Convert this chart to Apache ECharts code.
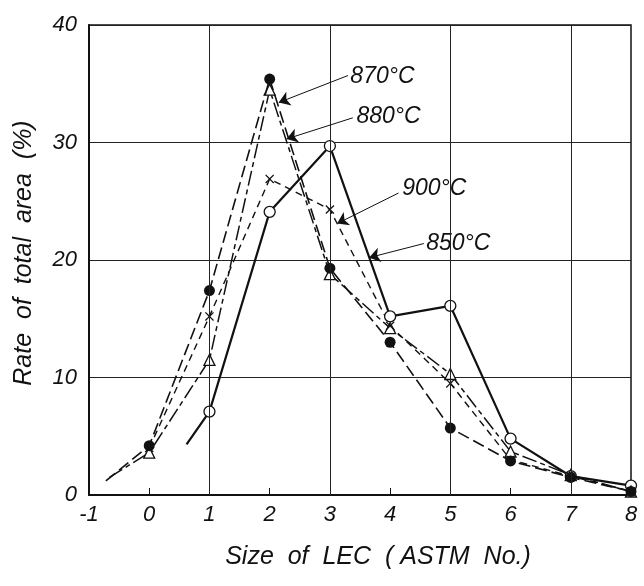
<!DOCTYPE html>
<html>
<head>
<meta charset="utf-8">
<script src="https://cdn.jsdelivr.net/npm/echarts@6/dist/echarts.min.js"></script>
<style>
  html, body { margin: 0; padding: 0; background: #fff; }
  #chart { width: 644px; height: 586px; }
</style>
</head>
<body>
<div id="chart"></div>
<script>
// Tamaño de LEC (ASTM No.) vs. porcentaje del área total

const sizes = [0, 1, 2, 3, 4, 5, 6, 7, 8];
const rate850 = [null, 7.1, 24.1, 29.7, 15.2, 16.1, 4.8, 1.6, 0.8];
const rate870 = [4.2, 17.4, 35.4, 19.3, 13.0, 5.7, 2.9, 1.5, 0.3];
const rate880 = [3.6, 11.5, 34.5, 18.8, 14.2, 10.3, 3.7, 1.7, 0.3];
const rate900 = [4.0, 15.2, 26.9, 24.3, 14.4, 9.5, 3.0, 1.6, 0.3];

// tramos de curva sin marcador
const tail850 = [0.62, 4.3];
const tail870 = [-0.72, 1.2];
const tail880 = [-0.66, 1.5];

// líneas verticales de la cuadrícula
const vGrid = [1, 3, 5, 7];

// etiquetas de temperatura: [texto, x, y] y flecha [inicio, fin]
const tempLabels = [
    ['870°C', 3.34, 35.6],
    ['880°C', 3.44, 32.2],
    ['900°C', 4.2, 26.1],
    ['850°C', 4.6, 21.4]
];
const arrows = [
    [[3.3, 35.7], [2.15, 33.4]],
    [[3.38, 32.1], [2.28, 30.3]],
    [[4.14, 25.7], [3.12, 23.1]],
    [[4.56, 21.4], [3.65, 20.2]]
];

const font = 'Liberation Sans';
const crossPath = 'path://M0,1L1,0L5,4L9,0L10,1L6,5L10,9L9,10L5,6L1,10L0,9L4,5Z';

function points(values, tail) {
    const pts = [];
    if (tail) pts.push({ value: tail, symbol: 'none' });
    values.forEach((v, i) => {
        if (v !== null) pts.push([sizes[i], v]);
    });
    return pts;
}

const chart = echarts.init(document.getElementById('chart'));

const option = {
    animation: false,
    backgroundColor: '#fff',
    grid: {
        left: 89,
        right: 13,
        top: 25,
        bottom: 91,
        show: true,
        borderColor: '#111',
        borderWidth: 1.5
    },
    xAxis: {
        type: 'value',
        min: -1,
        max: 8,
        interval: 1,
        name: 'Size  of  LEC  ( ASTM  No.)',
        nameLocation: 'middle',
        nameGap: 50,
        nameTextStyle: {
            fontFamily: font,
            fontStyle: 'italic',
            fontSize: 25,
            color: '#111',
            padding: [0, 0, 0, 36]
        },
        axisLine: { onZero: false, lineStyle: { color: '#111', width: 2 } },
        axisTick: { inside: true, length: 7, lineStyle: { color: '#111' } },
        axisLabel: {
            fontFamily: font,
            fontStyle: 'italic',
            fontSize: 22,
            color: '#111',
            margin: 9
        },
        splitLine: { show: false }
    },
    yAxis: {
        type: 'value',
        min: 0,
        max: 40,
        interval: 10,
        name: 'Rate  of  total  area  (%)',
        nameLocation: 'middle',
        nameGap: 52,
        nameTextStyle: {
            fontFamily: font,
            fontStyle: 'italic',
            fontSize: 25,
            color: '#111',
            padding: [0, 0, 0, 14]
        },
        axisLine: { onZero: false, lineStyle: { color: '#111', width: 2 } },
        axisTick: { show: false },
        axisLabel: {
            fontFamily: font,
            fontStyle: 'italic',
            fontSize: 22,
            color: '#111',
            margin: 12
        },
        splitLine: { lineStyle: { color: '#222', width: 1 } }
    },
    series: [
        {
            name: 'grid',
            type: 'line',
            data: [],
            silent: true,
            z: 1,
            markLine: {
                silent: true,
                symbol: 'none',
                lineStyle: { color: '#222', width: 1, type: 'solid' },
                label: { show: false },
                data: vGrid.map(v => ({ xAxis: v }))
            }
        },
        {
            name: 'arrows',
            type: 'line',
            data: [],
            silent: true,
            z: 5,
            markLine: {
                silent: true,
                symbol: ['none', 'arrow'],
                symbolSize: 11,
                lineStyle: { color: '#111', width: 1, type: 'solid' },
                itemStyle: { color: '#111' },
                label: { show: false },
                data: arrows.map(a => [{ coord: a[0] }, { coord: a[1] }])
            }
        },
        {
            name: '850°C',
            type: 'line',
            data: points(rate850, tail850),
            symbol: 'circle',
            symbolSize: 11,
            itemStyle: { color: '#fff', borderColor: '#111', borderWidth: 1.3 },
            lineStyle: { color: '#111', width: 2.2 },
            z: 3
        },
        {
            name: '870°C',
            type: 'line',
            data: points(rate870, tail870),
            symbol: 'circle',
            symbolSize: 11,
            itemStyle: { color: '#111' },
            lineStyle: { color: '#111', width: 1.6, type: [12, 5] },
            z: 4
        },
        {
            name: '880°C',
            type: 'line',
            data: points(rate880, tail880),
            symbol: 'triangle',
            symbolSize: 11,
            itemStyle: { color: '#fff', borderColor: '#111', borderWidth: 1.3 },
            lineStyle: { color: '#111', width: 1.5, type: [15, 4, 5, 4] },
            z: 3
        },
        {
            name: '900°C',
            type: 'line',
            data: points(rate900),
            symbol: crossPath,
            symbolSize: 9,
            itemStyle: { color: '#111' },
            lineStyle: { color: '#111', width: 1.4, type: [7, 5] },
            z: 3
        }
    ]
};

chart.setOption(option);

// etiquetas de temperatura ubicadas con las escalas del gráfico
chart.setOption({
    graphic: tempLabels.map(t => {
        const p = chart.convertToPixel({ xAxisIndex: 0, yAxisIndex: 0 }, [t[1], t[2]]);
        return {
            type: 'text',
            x: p[0],
            y: p[1],
            style: {
                text: t[0],
                fontFamily: font,
                fontStyle: 'italic',
                fontSize: 23,
                fill: '#111',
                verticalAlign: 'middle'
            }
        };
    })
});
</script>
</body>
</html>
